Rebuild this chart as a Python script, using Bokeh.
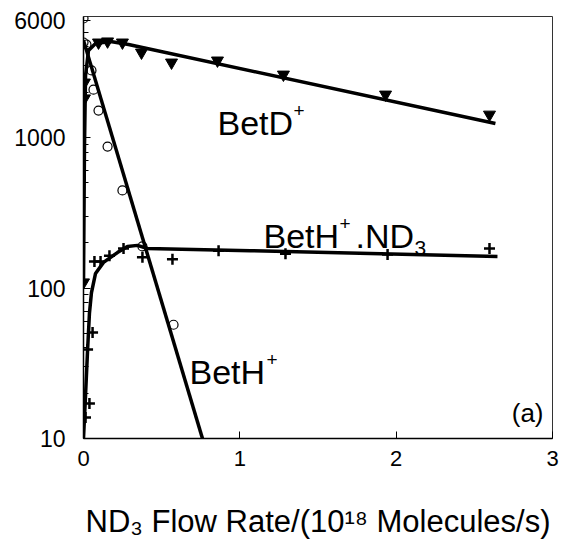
import math
from bokeh.plotting import figure
from bokeh.models import Label, FixedTicker, Range1d, NumeralTickFormatter
from bokeh.embed import file_html
from bokeh.resources import INLINE

# ---- data ----
betd_x = [0.0, 0.006, 0.006, 0.096, 0.154, 0.249, 0.371, 0.563, 0.857, 1.279, 1.932, 2.597]
betd_y = [109, 1820, 2320, 4280, 4350, 4280, 3670, 3150, 3250, 2620, 1930, 1420]

beth_x = [0.0, 0.0, 0.019, 0.051, 0.064, 0.096, 0.154, 0.249, 0.377, 0.576]
beth_y = [6180, 4280, 4150, 2790, 2080, 1510, 870, 445, 189, 57]

bethnd3_x = [0.013, 0.038, 0.026, 0.058, 0.070, 0.109, 0.166, 0.256, 0.377, 0.569, 0.864, 1.292, 1.945, 2.597]
bethnd3_y = [13.8, 17.1, 39, 50.6, 150, 150, 164, 183, 160, 155, 177, 169, 167, 183]

# fitted curves
betd_fit_x = [0.0, 0.006, 0.013, 0.032, 0.077, 0.173, 0.288, 2.635]
betd_fit_y = [104, 820, 2580, 3790, 4220, 4350, 4150, 1240]

beth_fit_x = [0.0, 0.761]
beth_fit_y = [4420, 10]

bethnd3_fit_x = [0.0, 0.013, 0.026, 0.038, 0.051, 0.077, 0.128, 0.217, 0.281, 0.345, 0.409, 1.068, 2.648]
bethnd3_fit_y = [10, 19.3, 38.5, 67.8, 93.3, 125, 148, 172, 189, 192, 183, 177, 162]

x_ticks = [0, 1, 2, 3]
y_ticks = [10, 100, 1000, 6000]
y_minor = [m * d for d in (10, 100, 1000) for m in range(2, 10) if m * d < 6000]

x_title = "ND\u2083 Flow Rate/(10\u00b9\u2078 Molecules/s)"

# ---- layout ----
W, H = 562, 544
L, R, T, B = 83, 10, 16, 106
XMIN, XMAX = 0, 3
YMIN, YMAX = 10, 6370
FW, FH = W - L - R, H - T - B

def dx(px):
    return XMIN + (px - L) / FW * (XMAX - XMIN)

def dy(py):
    span = math.log10(YMAX / YMIN)
    return YMIN * 10 ** ((T + FH - py) / FH * span)

FONT = "Liberation Sans"

p = figure(width=W, height=H, y_axis_type="log",
           x_range=Range1d(XMIN, XMAX), y_range=Range1d(YMIN, YMAX),
           output_backend="svg", toolbar_location=None)
p.min_border_left = L
p.min_border_right = R
p.min_border_top = T
p.min_border_bottom = B
p.background_fill_color = "white"
p.border_fill_color = "white"
p.outline_line_color = "#333333"
p.outline_line_width = 1
p.xgrid.visible = False
p.ygrid.visible = False

p.xaxis.ticker = FixedTicker(ticks=x_ticks, minor_ticks=[])
p.yaxis.ticker = FixedTicker(ticks=y_ticks, minor_ticks=y_minor)
p.yaxis.formatter = NumeralTickFormatter(format="0")
for ax in (p.xaxis, p.yaxis):
    ax.axis_line_color = "black"
    ax.axis_line_width = 1.5
    ax.major_tick_line_color = "black"
    ax.minor_tick_line_color = "black"
    ax.major_tick_out = 0
    ax.minor_tick_out = 0
    ax.major_label_text_font = FONT
    ax.major_label_text_color = "black"
p.xaxis.major_tick_in = 7
p.xaxis.minor_tick_in = 0
p.xaxis.major_label_text_font_size = "22px"
p.xaxis.major_label_standoff = 12
p.yaxis.major_tick_in = 7
p.yaxis.minor_tick_in = 5
p.yaxis.major_label_text_font_size = "23px"
p.yaxis.major_label_standoff = 18

p.xaxis.axis_label = x_title
p.xaxis.axis_label_text_font = FONT
p.xaxis.axis_label_text_font_size = "31px"
p.xaxis.axis_label_text_font_style = "normal"
p.xaxis.axis_label_text_color = "black"
p.xaxis.axis_label_standoff = 35

# fitted lines
p.line(betd_fit_x, betd_fit_y, line_color="black", line_width=3.5)
p.line(beth_fit_x, beth_fit_y, line_color="black", line_width=3.5)
p.line(bethnd3_fit_x, bethnd3_fit_y, line_color="black", line_width=3.5)

# markers
p.scatter(betd_x, betd_y, marker="inverted_triangle", size=12,
          fill_color="black", line_color="black")
p.scatter(beth_x, beth_y, marker="circle", size=9,
          fill_color="white", fill_alpha=0, line_color="black", line_width=1.2)
p.scatter(bethnd3_x, bethnd3_y, marker="cross", size=11,
          line_color="black", line_width=2.5)

def lab(px, py, text, size, align="left"):
    p.add_layout(Label(x=dx(px), y=dy(py), x_units="data", y_units="data",
                       text=text, text_font=FONT, text_font_size=f"{size}px",
                       text_align=align, text_baseline="alphabetic",
                       text_color="black"))

# series labels
lab(217, 122, "BetD", 34)
lab(293, 110, "+", 19)
lab(263, 235, "BetH", 34)
lab(339, 223, "+", 19)
lab(355, 235, ".ND", 34)
lab(414, 247, "3", 21)
lab(189, 371, "BetH", 34)
lab(266, 359, "+", 19)
lab(543, 412, "(a)", 26, "right")

open("out.html", "w").write(file_html(p, INLINE))
